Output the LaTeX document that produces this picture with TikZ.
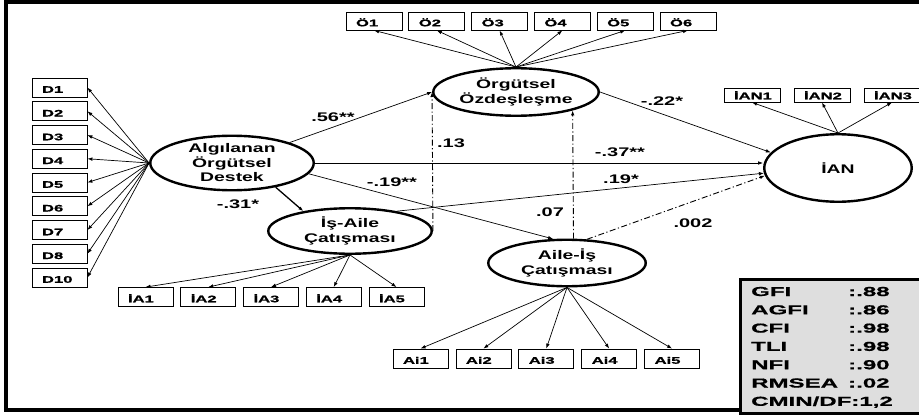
\documentclass[tikz,border=0pt]{standalone}
\usepackage{fontspec}
\setmainfont{Liberation Sans}
\newfontfamily\ellfont{Liberation Sans}[FakeStretch=1.55]
\newfontfamily\coeffont{Liberation Sans}[FakeStretch=1.6]
\newfontfamily\boxfont{Liberation Sans}[FakeStretch=1.75,FakeBold=1]
\newfontfamily\fitfont{Liberation Sans}[FakeStretch=1.85,FakeBold=0.8]
\usetikzlibrary{arrows.meta,shapes.geometric}

\begin{document}
\begin{tikzpicture}[x=1pt,y=-1pt,
  latent/.style={ellipse,draw,line width=2.4pt,inner sep=0pt},
  lattext/.style={inner sep=0pt,align=center,
    font=\ellfont\bfseries\fontsize{12.5}{14.5}\selectfont},
  ind/.style={draw,line width=0.8pt,inner sep=0pt,inner xsep=10pt,
    text width=35pt,minimum height=19pt,align=left,
    text height=10.5pt,text depth=0pt,
    font=\boxfont\bfseries\fontsize{9.5}{11}\selectfont},
  obox/.style={ind,text width=36pt,minimum height=18pt},
  ianbox/.style={ind,text width=36pt,minimum height=14pt,align=center,
    text height=8.5pt},
  coef/.style={inner sep=0pt,font=\coeffont\bfseries\fontsize{12.5}{14}\selectfont},
  conn/.style={-{Latex[length=5pt,width=3.6pt]},line width=0.7pt},
  dashdot/.style={conn,line width=0.9pt,
    dash pattern=on 6pt off 2.5pt on 1.2pt off 2.5pt},
]
\useasboundingbox (0,0) rectangle (919,415);

% outer frame
\draw[line width=3.5pt] (6,1.8) rectangle (945,410);

% latent variables
\node[latent,minimum width=163.5pt,minimum height=54.5pt,
  label={[lattext]center:Algılanan\\Örgütsel\\Destek}] (destek) at (232,163) {};
\node[latent,minimum width=165.5pt,minimum height=47.5pt,
  label={[lattext]center:Örgütsel\\Özdeşleşme}] (orgut) at (516,92) {};
\node[latent,minimum width=147.5pt,minimum height=67.5pt,
  label={[lattext]center:İAN}] (ian) at (838,168) {};
\node[latent,minimum width=163.5pt,minimum height=45.5pt,
  label={[lattext]center:İş-Aile\\Çatışması}] (iscat) at (350,231) {};
\node[latent,minimum width=157.5pt,minimum height=46.5pt,
  label={[lattext]center:Aile-İş\\Çatışması}] (aicat) at (567,263) {};

% indicators of Algılanan Örgütsel Destek
\foreach \n [count=\i from 0] in {D1,D2,D3,D4,D5,D6,D7,D8,D10}{
  \node[ind] (d\i) at (59.5,{87.5+23.75*\i}) {\n};
  \draw[conn] (destek.west) -- (d\i.east);
}

% indicators of Örgütsel Özdeşleşme
\foreach \n [count=\i from 0] in {Ö1,Ö2,Ö3,Ö4,Ö5,Ö6}{
  \node[obox] (o\i) at ({374+62.8*\i},21) {\n};
  \draw[conn] (orgut.north) -- (o\i.south);
}

% indicators of İAN
\node[ianbox] (ian1) at (752,95) {İAN1};
\node[ianbox] (ian2) at (822,95) {İAN2};
\node[ianbox] (ian3) at (892,95) {İAN3};
\foreach \k in {1,2,3}{
  \draw[conn] (ian.north) -- (ian\k.south);
}

% indicators of İş-Aile Çatışması
\foreach \n [count=\i from 0] in {İA1,İA2,İA3,İA4,İA5}{
  \node[ind] (ia\i) at ({145.5+62.75*\i},297) {\n};
  \draw[conn] (iscat.south) -- (ia\i.north);
}

% indicators of Aile-İş Çatışması
\foreach \n [count=\i from 0] in {Ai1,Ai2,Ai3,Ai4,Ai5}{
  \node[ind] (ai\i) at ({420.5+62.9*\i},358.5) {\n};
  \draw[conn] (aicat.south) -- (ai\i.north);
}

% structural paths
\draw[conn] (destek) -- (orgut.west);
\draw[conn] (destek.east) -- (destek.east -| ian.west);
\draw[conn] (destek.-8) -- (aicat.120);
\draw[conn,line width=1.3pt] (destek.-29) -- (iscat.157);
\draw[conn] (iscat.23) -- (ian.184);
\draw[conn] (orgut.east) -- (ian.167);
\draw[dashdot] (iscat.east) -- (orgut.west);
\draw[dashdot] (aicat.75) -- (orgut.-18);
\draw[dashdot] (aicat.50) -- (ian.186);

% path coefficients
\node[coef] (c56) at (333,117) {.56**};
\node[coef] (c13) at (451,143) {.13};
\node[coef] (c19a) at (392,182) {-.19**};
\node[coef] (c31) at (238,204) {-.31*};
\node[coef] (c22) at (662,101) {-.22*};
\node[coef] (c37) at (620,152) {-.37**};
\node[coef] (c19b) at (621,179) {.19*};
\node[coef] (c07) at (550,212) {.07};
\node[coef] (c002) at (693,223) {.002};

% fit indices
\node[draw,line width=3pt,fill=black!13,inner sep=0pt,anchor=north west,
  minimum width=210pt,minimum height=134pt] (fitbox) at (738.5,277.5) {};
\node[anchor=base west,inner sep=0pt,
  font=\fitfont\bfseries\fontsize{13}{18.3}\selectfont] (fitstats) at (751,296)
  {\begin{tabular}[t]{@{}p{97pt}@{}l@{}}
   GFI & :.88\\
   AGFI & :.86\\
   CFI & :.98\\
   TLI & :.98\\
   NFI & :.90\\
   RMSEA & :.02\\
   \multicolumn{2}{@{}l@{}}{CMIN/DF:1,2}
   \end{tabular}};
\end{tikzpicture}
\end{document}
